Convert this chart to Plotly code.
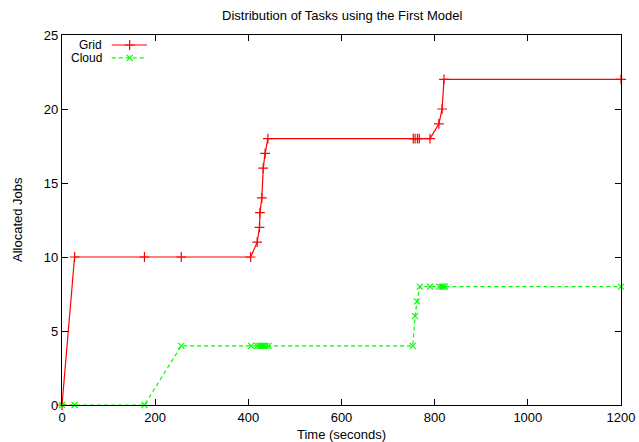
import plotly.graph_objects as go

# ---- data ----
grid_time = [0, 27, 177, 256, 405, 419, 424, 425, 429, 432, 436, 442,
             754, 758, 763, 767, 790, 809, 816, 820, 1200]
grid_jobs = [0, 10, 10, 10, 10, 11, 12, 13, 14, 16, 17, 18,
             18, 18, 18, 18, 18, 19, 20, 22, 22]

cloud_time = [0, 27, 177, 256, 406, 419, 424, 426, 430, 433, 437, 443,
              753, 758, 762, 768, 790, 810, 815, 818, 822, 1200]
cloud_jobs = [0, 0, 0, 4, 4, 4, 4, 4, 4, 4, 4, 4,
              4, 6, 7, 8, 8, 8, 8, 8, 8, 8]

x_ticks = [0, 200, 400, 600, 800, 1000, 1200]
y_ticks = [0, 5, 10, 15, 20, 25]

title = "Distribution of Tasks using the First Model"
x_title = "Time (seconds)"
y_title = "Allocated Jobs"
series_names = ["Grid", "Cloud"]

FONT = "Liberation Sans, Arial, Helvetica, sans-serif"
RED = "#ff0000"
GREEN = "#00ff00"

fig = go.Figure()
fig.add_trace(go.Scatter(
    x=grid_time, y=grid_jobs, mode="lines+markers", name=series_names[0],
    line=dict(color=RED, width=1.2),
    marker=dict(symbol="cross-thin", size=7, line=dict(color=RED, width=1.2)),
    showlegend=False, cliponaxis=False))
fig.add_trace(go.Scatter(
    x=cloud_time, y=cloud_jobs, mode="lines+markers", name=series_names[1],
    line=dict(color=GREEN, width=1.2, dash="4px,3px"),
    marker=dict(symbol="x-thin", size=6, line=dict(color=GREEN, width=1.2)),
    showlegend=False, cliponaxis=False))

# gnuplot-style key (text left, sample right) on an overlay axis in [0,1]
fig.add_trace(go.Scatter(
    x=[0.089, 0.152], y=[0.973, 0.973], mode="lines", xaxis="x2", yaxis="y2",
    line=dict(color=RED, width=1.2), showlegend=False, hoverinfo="skip"))
fig.add_trace(go.Scatter(
    x=[0.121], y=[0.973], mode="markers", xaxis="x2", yaxis="y2",
    marker=dict(symbol="cross-thin", size=7, line=dict(color=RED, width=1.2)),
    showlegend=False, hoverinfo="skip"))
fig.add_trace(go.Scatter(
    x=[0.089, 0.152], y=[0.938, 0.938], mode="lines", xaxis="x2", yaxis="y2",
    line=dict(color=GREEN, width=1.2, dash="4px,3px"), showlegend=False, hoverinfo="skip"))
fig.add_trace(go.Scatter(
    x=[0.121], y=[0.938], mode="markers", xaxis="x2", yaxis="y2",
    marker=dict(symbol="x-thin", size=6, line=dict(color=GREEN, width=1.2)),
    showlegend=False, hoverinfo="skip"))

axis_common = dict(
    showgrid=False, zeroline=False, showline=True, linecolor="black", linewidth=1.2,
    mirror="ticks", ticks="inside", ticklen=6, tickcolor="black", tickwidth=1,
    tickfont=dict(family=FONT, size=13, color="black"),
)

fig.update_layout(
    width=639, height=442,
    margin=dict(l=62, r=18, t=35, b=37),
    paper_bgcolor="white", plot_bgcolor="white",
    font=dict(family=FONT, size=13, color="black"),
    xaxis=dict(range=[0, 1200], tickvals=x_ticks, automargin=False, **axis_common),
    yaxis=dict(range=[0, 25], tickvals=y_ticks, automargin=False, **axis_common),
    xaxis2=dict(range=[0, 1], overlaying="x", visible=False, fixedrange=True),
    yaxis2=dict(range=[0, 1], overlaying="y", visible=False, fixedrange=True),
    annotations=[
        dict(text=title, xref="paper", yref="paper", x=0.5, y=1, yshift=20,
             showarrow=False, xanchor="center", yanchor="middle",
             font=dict(family=FONT, size=13)),
        dict(text=x_title, xref="paper", yref="paper", x=0.5, y=0, yshift=-29,
             showarrow=False, xanchor="center", yanchor="middle",
             font=dict(family=FONT, size=13)),
        dict(text=y_title, xref="paper", yref="paper", x=0, xshift=-45, y=0.5,
             showarrow=False, textangle=-90, xanchor="center", yanchor="middle",
             font=dict(family=FONT, size=13)),
        dict(text=series_names[0], xref="paper", yref="paper", x=0.075, y=0.973,
             showarrow=False, xanchor="right", yanchor="middle",
             font=dict(family=FONT, size=12)),
        dict(text=series_names[1], xref="paper", yref="paper", x=0.075, y=0.938,
             showarrow=False, xanchor="right", yanchor="middle",
             font=dict(family=FONT, size=12)),
    ],
)

fig.write_html("out.html", config={"displayModeBar": False},
               post_script="document.body.style.margin='0';document.body.style.padding='0';")
